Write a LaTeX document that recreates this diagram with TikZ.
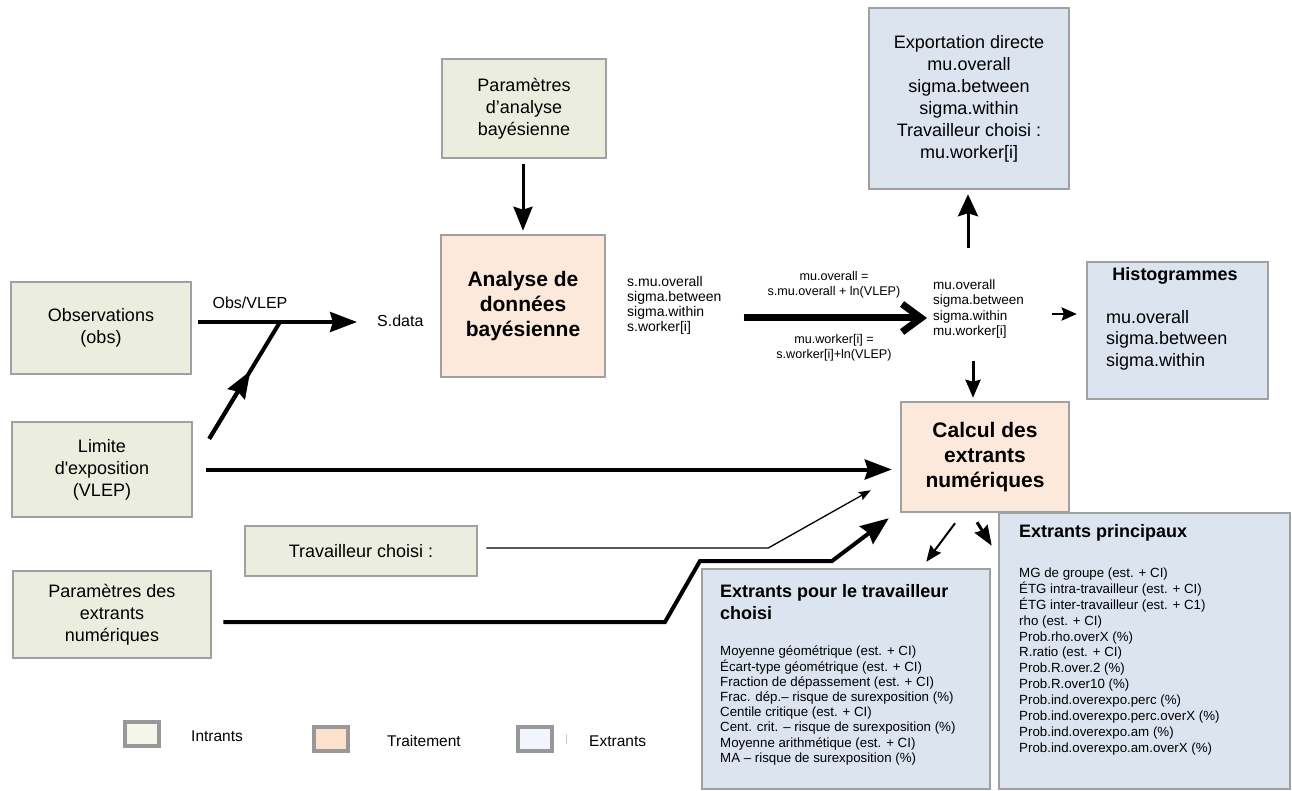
\documentclass[tikz,border=0pt]{standalone}
\usepackage{fontspec}
\setmainfont{Liberation Sans}
\usetikzlibrary{arrows.meta,calc}
\definecolor{inFill}{HTML}{EBEEDF}
\definecolor{procFill}{HTML}{FCE9DB}
\definecolor{outFill}{HTML}{DCE4F0}
\definecolor{boxGray}{HTML}{A0A0A0}
\definecolor{legIn}{HTML}{F3F6E9}
\definecolor{legProc}{HTML}{FDE1CD}
\definecolor{legOut}{HTML}{F2F5FD}
\begin{document}
\begin{tikzpicture}[x=1pt,y=-1pt,
  box/.style={draw=boxGray, line width=2.5pt, inner sep=0pt, align=center,
    font=\fontsize{18pt}{22pt}\selectfont},
  inbox/.style={box, fill=inFill},
  procbox/.style={box, fill=procFill, font=\bfseries\fontsize{21pt}{25pt}\selectfont},
  outbox/.style={box, fill=outFill},
  boldtitle/.style={inner sep=0pt, align=left, font=\bfseries\fontsize{18pt}{22pt}\selectfont},
  biglist/.style={inner sep=0pt, align=left, font=\fontsize{18pt}{21.5pt}\selectfont},
  varlist/.style={inner sep=0pt, align=left, font=\fontsize{14pt}{15pt}\selectfont},
  formula/.style={inner sep=0pt, align=center, font=\fontsize{12.6pt}{15pt}\selectfont},
  outlistw/.style={inner sep=0pt, align=left, font=\fontsize{13.3pt}{15.2pt}\selectfont},
  outlistp/.style={inner sep=0pt, align=left, font=\fontsize{13.3pt}{15.9pt}\selectfont},
  lab/.style={inner sep=0pt, font=\fontsize{16pt}{19pt}\selectfont},
  legbox/.style={draw=boxGray!95!black, line width=4pt, minimum width=34pt, minimum height=24pt, inner sep=0pt},
  legtext/.style={inner sep=0pt, anchor=west, font=\fontsize{15.5pt}{18pt}\selectfont},
  bigarrow/.style={line width=4pt, -{Stealth[length=27pt,width=20pt,inset=3pt]}},
  medarrow/.style={line width=3pt, -{Stealth[length=24pt,width=19pt,inset=3pt]}},
  smallarrow/.style={line width=2.5pt, -{Stealth[length=15pt,width=13pt,inset=2pt]}},
  thinarrow/.style={line width=1.3pt, -{Stealth[length=12pt,width=9pt,inset=2pt]}}
]
\useasboundingbox (0,0) rectangle (1292,791);

% input boxes
\node[inbox, minimum width=180pt, minimum height=92pt] (obs) at (101,328) {Observations\\(obs)};
\node[inbox, minimum width=180pt, minimum height=95pt] (vlep) at (102,469.5) {Limite\\d\textquotesingle exposition\\(VLEP)};
\node[inbox, minimum width=198pt, minimum height=87pt] (parext) at (112,614.5) {Paramètres des\\extrants\\numériques};
\node[inbox, minimum width=232pt, minimum height=50pt] (trav) at (361,551) {Travailleur choisi :};
\node[inbox, minimum width=164pt, minimum height=99pt] (parana) at (524,108.5) {Paramètres\\d’analyse\\bayésienne};

% processing boxes
\node[procbox, minimum width=164pt, minimum height=142pt] (analyse) at (523,306) {Analyse de\\données\\bayésienne};
\node[procbox, minimum width=168pt, minimum height=110pt] (calc) at (985,457) {Calcul des\\extrants\\numériques};

% output boxes
\node[outbox, minimum width=200pt, minimum height=181pt] (export) at (969,98.5)
  {Exportation directe\\mu.overall\\sigma.between\\sigma.within\\Travailleur choisi :\\mu.worker[i]};
\node[outbox, minimum width=181pt, minimum height=137pt] (histo) at (1177.5,330.5) {};
\node[boldtitle] (histoT) at (1175,276) {Histogrammes};
\node[biglist, anchor=west] (histoL) at (1106,340) {mu.overall\\sigma.between\\sigma.within};

\node[outbox, minimum width=288pt, minimum height=220pt] (outw) at (846,679) {};
\node[boldtitle, anchor=west] (outwT) at (720,602) {Extrants pour le travailleur\\choisi};
\node[outlistw, anchor=west] (outwL) at (720,705.5) {Moyenne géométrique (est. + CI)\\
Écart-type géométrique (est. + CI)\\
Fraction de dépassement (est. + CI)\\
Frac. dép.– risque de surexposition (\%)\\
Centile critique (est. + CI)\\
Cent. crit. – risque de surexposition (\%)\\
Moyenne arithmétique (est. + CI)\\
MA – risque de surexposition (\%)};

\node[outbox, minimum width=291pt, minimum height=276pt] (outp) at (1144.5,651) {};
\node[boldtitle, anchor=west] (outpT) at (1019,533) {Extrants principaux};
\node[outlistp, anchor=west] (outpL) at (1019,661.5) {MG de groupe (est. + CI)\\
ÉTG intra-travailleur (est. + CI)\\
ÉTG inter-travailleur (est. + C1)\\
rho (est. + CI)\\
Prob.rho.overX (\%)\\
R.ratio (est. + CI)\\
Prob.R.over.2 (\%)\\
Prob.R.over10 (\%)\\
Prob.ind.overexpo.perc (\%)\\
Prob.ind.overexpo.perc.overX (\%)\\
Prob.ind.overexpo.am (\%)\\
Prob.ind.overexpo.am.overX (\%)};

% intermediate labels
\node[lab] (obsl) at (250,303) {Obs/VLEP};
\node[lab, anchor=west] (sdata) at (377,321) {S.data};
\node[varlist, anchor=west] (list1) at (627,305.5) {s.mu.overall\\sigma.between\\sigma.within\\s.worker[i]};
\node[formula] (f1) at (834,284.5) {mu.overall =\\s.mu.overall + ln(VLEP)};
\node[formula] (f2) at (834,347.5) {mu.worker[i] =\\s.worker[i]+ln(VLEP)};
\node[varlist, anchor=west, font=\fontsize{13.5pt}{15.3pt}\selectfont] (list2) at (933,309) {mu.overall\\sigma.between\\sigma.within\\mu.worker[i]};

% connectors
\coordinate (j) at (280,322);
\draw[bigarrow] ($(obs.east)+(6,-6)$) -- ($(sdata.west)+(-20,1)$);
\coordinate (vs) at ($(vlep.north east)+(16,18)$);
\draw[line width=4pt] (vs) -- (j);
\draw[bigarrow] (vs) -- ($(vs)!0.58!(j)$);
\draw[bigarrow] ($(vlep.east)+(13,0)$) -- ($(calc.west)+(-8,12.5)$);
\draw[thinarrow] ($(trav.east)+(8,-3)$) -- ($(trav.east)+(290,-3)$) -- ($(calc.south west)+(-29,-23)$);
\draw[line width=4pt, -{Stealth[length=28pt,width=22pt,inset=3pt]}]
  ($(parext.east)+(11,7.5)$) -- (665,622) -- (700,561) -- (832,561) -- ($(calc.south west)+(-11,5)$);
\draw[medarrow] ($(parana.south)+(-1,5)$) -- ($(analyse.north)+(0,-3)$);
\draw[line width=7pt, -{Straight Barb[length=19pt,width=28pt]}]
  ($(list1.east)+(22,12.5)$) -- ($(list2.west)+(-6,9)$);
\draw[smallarrow] ($(list2.east)+(28,5)$) -- ($(histo.west)+(-9,-16.5)$);
\draw[line width=3pt, -{Stealth[length=22pt,width=20pt,inset=3pt]}]
  ($(export.south)+(-1,58)$) -- ($(export.south)+(-1,4)$);
\draw[line width=3pt, -{Stealth[length=18pt,width=15pt,inset=2pt]}]
  ($(calc.north)+(-12,-40)$) -- ($(calc.north)+(-12,-3)$);
\draw[line width=2pt, -{Stealth[length=16pt,width=13pt,inset=2pt]}]
  ($(calc.south)+(-30,10)$) -- ($(outw.north east)+(-65,-6)$);
\draw[line width=3pt, -{Stealth[length=20pt,width=15pt,inset=2pt]}]
  ($(calc.south)+(-8,9)$) -- ($(outp.north west)+(-6,34)$);

% legend
\node[legbox, fill=legIn] (lgIn) at (142,734) {};
\node[legbox, fill=legProc] (lgProc) at (331,738.5) {};
\node[legbox, fill=legOut] (lgOut) at (534.5,738.5) {};
\node[legtext] (lgInT) at (191,736) {Intrants};
\node[legtext] (lgProcT) at (387,741) {Traitement};
\node[legtext] (lgOutT) at (589,741) {Extrants};
\draw[black!20, line width=1pt] (566,734) -- (566,744);
\end{tikzpicture}
\end{document}
